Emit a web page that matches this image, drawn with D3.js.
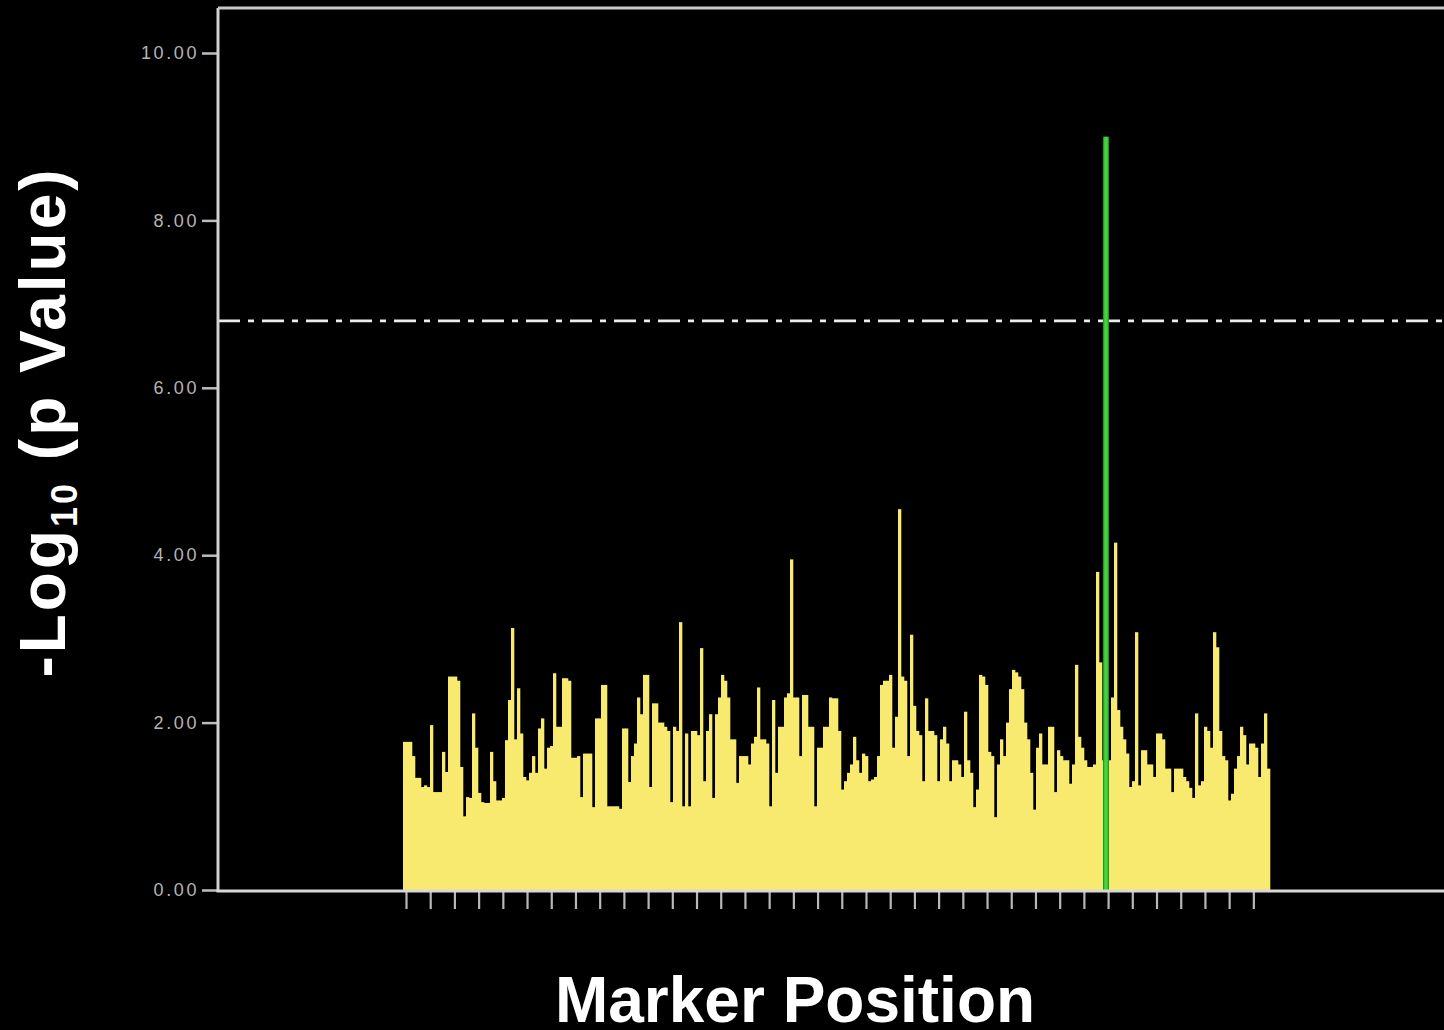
<!DOCTYPE html>
<html>
<head>
<meta charset="utf-8">
<script src="https://cdn.jsdelivr.net/npm/d3@7"></script>
<style>
html,body{margin:0;padding:0;background:#000;}
svg{display:block;}
</style>
</head>
<body>
<script>
// ---- data ----
const markerValues = [
1.77,1.77,1.77,1.6,1.34,1.34,1.23,1.25,1.23,1.97,
1.17,1.17,1.17,1.65,1.41,2.55,2.55,2.55,2.5,1.47,
0.88,1.11,1.1,2.11,1.7,1.16,1.05,1.04,1.04,1.65,
1.3,1.07,1.07,1.1,1.79,2.27,3.13,1.8,2.41,1.87,
1.35,1.31,1.4,1.6,1.4,1.93,2.05,1.45,1.7,1.72,
2.59,1.95,1.95,2.53,2.53,2.5,1.58,1.58,1.6,1.11,
1.63,1.63,1.63,0.99,2.05,2.05,2.45,2.45,1.0,1.0,
1.0,1.0,0.97,1.93,1.93,1.29,1.6,1.75,2.3,2.1,
2.57,2.57,1.23,2.23,2.23,2.0,2.0,1.95,1.9,1.05,
1.95,1.9,3.2,1.0,1.87,1.0,1.9,1.9,1.85,2.89,
1.3,1.9,2.1,1.1,2.1,2.3,2.57,2.5,2.3,1.8,
1.8,1.28,1.6,1.6,1.6,1.5,1.75,1.83,2.42,1.8,
1.8,1.75,1.0,2.27,1.4,1.95,1.95,2.3,2.35,3.95,
2.3,2.3,1.6,2.33,2.33,1.95,1.95,1.0,1.7,1.7,
1.95,1.95,2.3,2.29,2.29,1.9,1.2,1.3,1.4,1.5,
1.83,1.55,1.4,1.63,1.6,1.3,1.32,1.35,1.6,2.45,
2.5,2.5,2.57,1.7,2.07,4.55,2.55,2.5,1.6,3.05,
2.2,1.9,1.85,1.3,2.29,1.9,1.9,1.85,1.3,1.8,
1.95,1.75,1.3,1.55,1.55,1.5,1.35,2.13,1.55,1.4,
0.99,1.2,2.57,2.55,2.45,1.65,1.6,0.87,1.5,1.8,
1.6,2.0,2.4,2.63,2.6,2.55,2.4,2.0,1.8,1.4,
0.96,1.7,1.87,1.5,1.5,1.95,1.95,1.17,1.67,1.6,
1.55,1.55,1.27,1.5,2.69,1.83,1.7,1.55,1.47,1.47,
1.5,3.8,2.72,1.55,1.55,1.55,2.3,4.15,2.15,1.95,
1.8,1.63,1.23,1.3,3.08,1.25,1.67,1.67,1.5,1.5,
1.35,1.87,1.87,1.8,1.45,1.45,1.17,1.45,1.45,1.45,
1.35,1.3,1.22,1.1,2.11,1.25,1.3,1.95,1.9,1.7,
3.08,2.9,1.9,1.6,1.55,1.07,1.15,1.45,1.6,1.95,
1.85,1.5,1.75,1.75,1.7,1.35,1.75,2.11,1.45
];
const peakMarker = { position: 234.33, value: 9.0 };   // highlighted significant marker
const thresholdValue = 6.8;                             // significance line
const yTickValues = [0, 2, 4, 6, 8, 10];
const xTickCount = 36;
const xTickStart = 1;
const xTickStep = 8.07;
const xTitle = "Marker Position";

// ---- layout ----
const W = 1444, H = 1030;
const svg = d3.select("body").append("svg").attr("width", W).attr("height", H)
  .style("background", "#000");

const axisX = 218, plotBottom = 890, plotTop = 8, plotRight = W;
const y = d3.scaleLinear().domain([0, 10]).range([plotBottom, 53]);
const x = d3.scaleLinear().domain([0, markerValues.length]).range([403, 1270]);
const bw = x(1) - x(0);

// bars
svg.append("g").selectAll("rect").data(markerValues).join("rect")
  .attr("x", (d, i) => x(i))
  .attr("y", d => y(d))
  .attr("width", bw + 0.3)
  .attr("height", d => y(0) - y(d))
  .attr("fill", "#f7ea6e");

// threshold dash-dot line
svg.append("line")
  .attr("x1", axisX).attr("x2", plotRight)
  .attr("y1", y(thresholdValue)).attr("y2", y(thresholdValue))
  .attr("stroke", "#ececec").attr("stroke-width", 2.6)
  .attr("stroke-dasharray", "22,8,6,8");

// peak marker (green)
svg.append("line")
  .attr("x1", x(peakMarker.position)).attr("x2", x(peakMarker.position))
  .attr("y1", y(peakMarker.value)).attr("y2", y(0))
  .attr("stroke", "#16a016").attr("stroke-width", 6);
svg.append("line")
  .attr("x1", x(peakMarker.position)).attr("x2", x(peakMarker.position))
  .attr("y1", y(peakMarker.value)).attr("y2", y(0))
  .attr("stroke", "#4ad043").attr("stroke-width", 3.5);

// x ticks
const xTicks = d3.range(xTickCount).map(i => xTickStart + i * xTickStep);
const gx = svg.append("g").attr("transform", `translate(0,${plotBottom + 2})`)
  .call(d3.axisBottom(x).tickValues(xTicks).tickSize(17).tickFormat(""));
gx.select(".domain").remove();
gx.selectAll(".tick line").attr("stroke", "#b8b8b8").attr("stroke-width", 2.2);

// y axis
const gy = svg.append("g").attr("transform", `translate(${axisX},0)`)
  .call(d3.axisLeft(y).tickValues(yTickValues).tickFormat(d3.format(".2f")).tickSize(16).tickPadding(3));
gy.select(".domain").remove();
gy.selectAll(".tick line").attr("stroke", "#bdbdbd").attr("stroke-width", 2.5);
gy.selectAll(".tick text")
  .attr("fill", "#b4b4b4")
  .style("font-family", "Arial, 'Liberation Sans', sans-serif")
  .style("font-size", "18px")
  .style("letter-spacing", "2.6px");

// frame lines
svg.append("line").attr("x1", axisX).attr("x2", axisX).attr("y1", plotTop).attr("y2", plotBottom + 1.5)
  .attr("stroke", "#d0d0d0").attr("stroke-width", 3);
svg.append("line").attr("x1", axisX).attr("x2", plotRight).attr("y1", plotTop).attr("y2", plotTop)
  .attr("stroke", "#c8c8c8").attr("stroke-width", 3);
svg.append("line").attr("x1", axisX - 1.5).attr("x2", plotRight).attr("y1", plotBottom + 1).attr("y2", plotBottom + 1)
  .attr("stroke", "#d8d8d8").attr("stroke-width", 3);

// titles
svg.append("text")
  .attr("x", 795).attr("y", 1022)
  .attr("text-anchor", "middle")
  .attr("fill", "#fff")
  .style("font-family", "Arial, 'Liberation Sans', sans-serif")
  .style("font-weight", "bold")
  .style("font-size", "64px")
  .text(xTitle);

const yt = svg.append("text")
  .attr("transform", "translate(65,422) rotate(-90)")
  .attr("text-anchor", "middle")
  .attr("fill", "#fff")
  .style("font-family", "Arial, 'Liberation Sans', sans-serif")
  .style("font-weight", "bold")
  .style("font-size", "64px")
  .style("letter-spacing", "3px");
yt.append("tspan").text("-Log");
yt.append("tspan").attr("dy", 12).style("font-size", "36px").text("10");
yt.append("tspan").attr("dy", -12).text(" (p Value)");
</script>
</body>
</html>
